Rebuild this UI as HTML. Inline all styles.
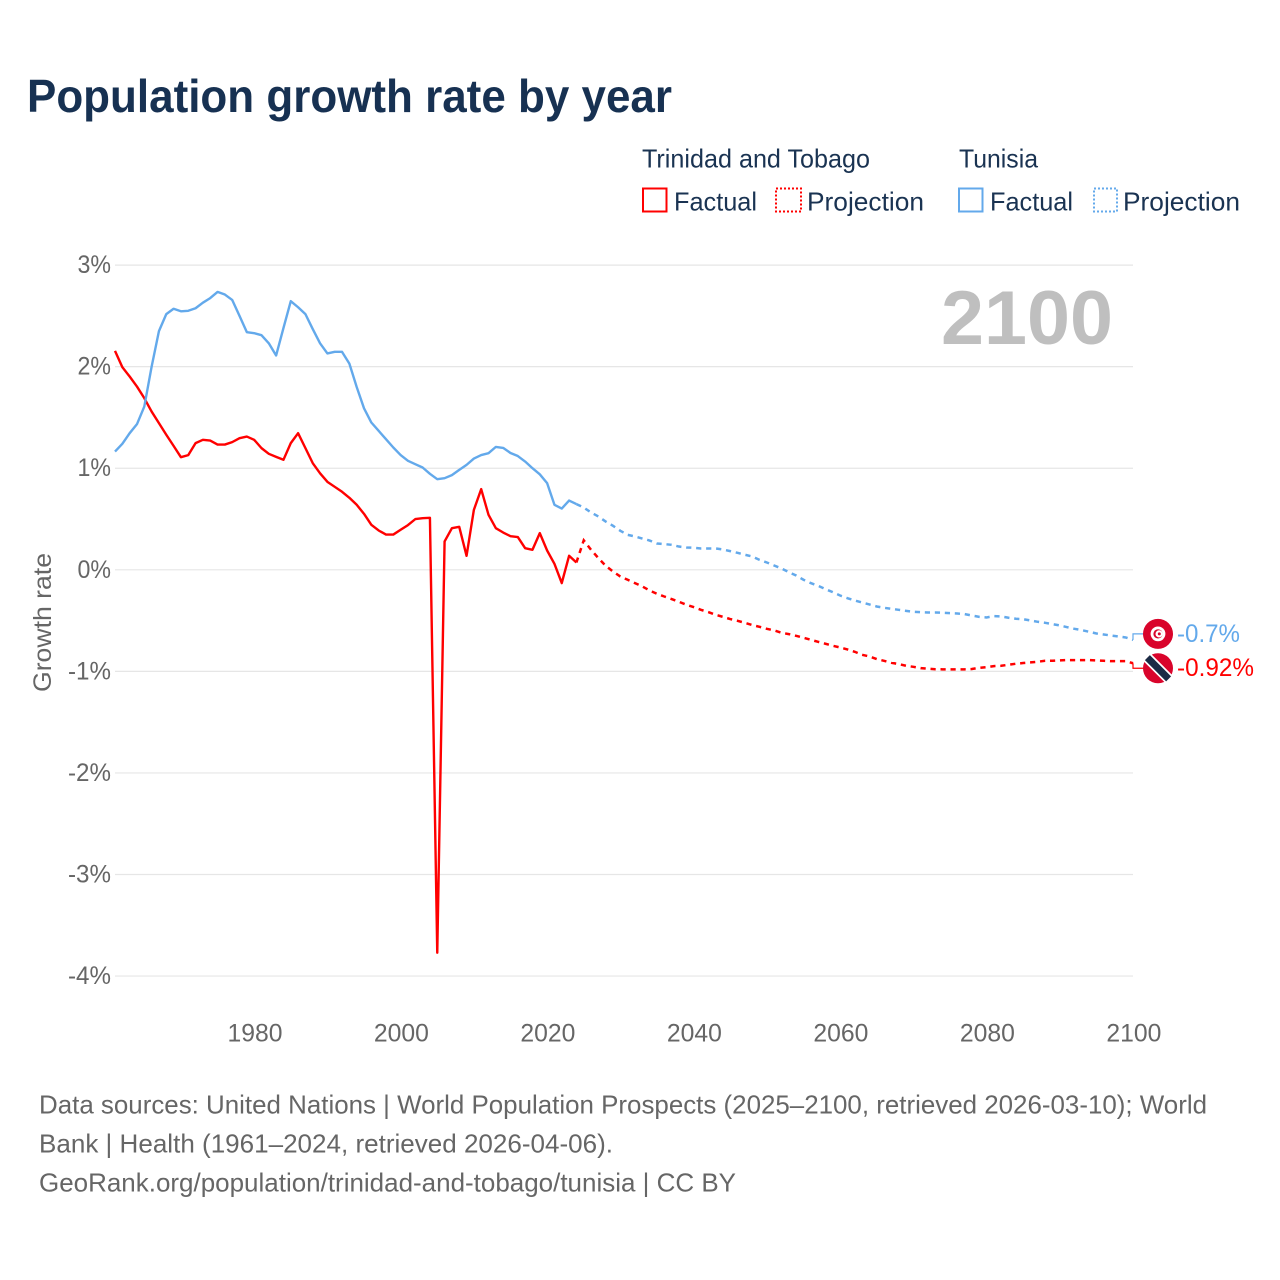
<!DOCTYPE html>
<html lang="en">
<head>
<meta charset="utf-8">
<title>Population growth rate by year</title>
<style>
html,body{margin:0;padding:0;background:#fff;}
svg{display:block;font-family:"Liberation Sans",sans-serif;}
</style>
</head>
<body>
<svg id="chart" xmlns="http://www.w3.org/2000/svg" width="1280" height="1280" viewBox="0 0 1280 1280">
  <rect x="0" y="0" width="1280" height="1280" fill="#ffffff"/>
  <text x="27" y="112" font-size="46" font-weight="700" fill="#173152" textLength="645" lengthAdjust="spacingAndGlyphs">Population growth rate by year</text>

  <g font-size="26" fill="#1a3352">
    <text x="642" y="167.5" textLength="228" lengthAdjust="spacingAndGlyphs">Trinidad and Tobago</text>
    <text x="959" y="167.5" textLength="79" lengthAdjust="spacingAndGlyphs">Tunisia</text>
    <g>
      <rect x="643" y="188.5" width="23.5" height="23" fill="none" stroke="#ff0000" stroke-width="2"/>
      <text x="674" y="210.5" textLength="83" lengthAdjust="spacingAndGlyphs">Factual</text>
    </g>
    <g>
      <rect x="776" y="188.5" width="25" height="23" fill="none" stroke="#ff0000" stroke-width="2" stroke-dasharray="2,2"/>
      <text x="807" y="210.5" textLength="117" lengthAdjust="spacingAndGlyphs">Projection</text>
    </g>
    <g>
      <rect x="959" y="188.5" width="23.5" height="23" fill="none" stroke="#63a9eb" stroke-width="2"/>
      <text x="990" y="210.5" textLength="83" lengthAdjust="spacingAndGlyphs">Factual</text>
    </g>
    <g>
      <rect x="1094" y="188.5" width="23" height="23" fill="none" stroke="#63a9eb" stroke-width="2" stroke-dasharray="2,2"/>
      <text x="1123" y="210.5" textLength="117" lengthAdjust="spacingAndGlyphs">Projection</text>
    </g>
  </g>

  <g id="grid"></g>
  <g id="y-ticks" font-size="25" fill="#666666"></g>
  <g id="x-ticks" font-size="25" fill="#666666"></g>
  <text transform="translate(51,692) rotate(-90)" font-size="25" fill="#666666" textLength="139" lengthAdjust="spacingAndGlyphs">Growth rate</text>
  <text x="941" y="344" font-size="76" font-weight="700" fill="#bfbfbf" textLength="172" lengthAdjust="spacingAndGlyphs">2100</text>

  <g id="series"></g>
  <g id="end-markers"></g>

  <g font-size="26" fill="#666666">
    <text x="39" y="1113.5" textLength="1168" lengthAdjust="spacingAndGlyphs">Data sources: United Nations | World Population Prospects (2025–2100, retrieved 2026-03-10); World</text>
    <text x="39" y="1152.5" textLength="574" lengthAdjust="spacingAndGlyphs">Bank | Health (1961–2024, retrieved 2026-04-06).</text>
    <text x="39" y="1191.5" textLength="697" lengthAdjust="spacingAndGlyphs">GeoRank.org/population/trinidad-and-tobago/tunisia | CC BY</text>
  </g>
</svg>

<script>
const factualYears = [1961,1962,1963,1964,1965,1966,1967,1968,1969,1970,1971,1972,1973,1974,1975,1976,1977,1978,1979,1980,1981,1982,1983,1984,1985,1986,1987,1988,1989,1990,1991,1992,1993,1994,1995,1996,1997,1998,1999,2000,2001,2002,2003,2004,2005,2006,2007,2008,2009,2010,2011,2012,2013,2014,2015,2016,2017,2018,2019,2020,2021,2022,2023,2024];
const projectionYears = [2025,2026,2027,2028,2029,2030,2031,2032,2033,2034,2035,2036,2037,2038,2039,2040,2041,2042,2043,2044,2045,2046,2047,2048,2049,2050,2051,2052,2053,2054,2055,2056,2057,2058,2059,2060,2061,2062,2063,2064,2065,2066,2067,2068,2069,2070,2071,2072,2073,2074,2075,2076,2077,2078,2079,2080,2081,2082,2083,2084,2085,2086,2087,2088,2089,2090,2091,2092,2093,2094,2095,2096,2097,2098,2099,2100];
const trinidadFactual = [2.155,1.995,1.903,1.804,1.69,1.558,1.444,1.33,1.22,1.109,1.129,1.247,1.28,1.272,1.233,1.233,1.257,1.296,1.312,1.28,1.198,1.142,1.112,1.083,1.247,1.345,1.198,1.05,0.95,0.866,0.817,0.768,0.709,0.64,0.551,0.443,0.387,0.347,0.347,0.394,0.44,0.499,0.508,0.512,-3.77,0.279,0.41,0.423,0.138,0.59,0.794,0.541,0.41,0.367,0.331,0.322,0.213,0.197,0.361,0.19,0.059,-0.131,0.138,0.072];
const trinidadProjection = [0.29,0.197,0.115,0.039,-0.017,-0.066,-0.098,-0.131,-0.164,-0.204,-0.236,-0.263,-0.288,-0.315,-0.344,-0.367,-0.394,-0.416,-0.443,-0.463,-0.485,-0.502,-0.522,-0.544,-0.561,-0.581,-0.597,-0.62,-0.633,-0.65,-0.669,-0.689,-0.709,-0.728,-0.748,-0.765,-0.784,-0.807,-0.837,-0.853,-0.879,-0.896,-0.915,-0.928,-0.945,-0.955,-0.968,-0.974,-0.979,-0.98,-0.98,-0.98,-0.98,-0.977,-0.965,-0.958,-0.948,-0.945,-0.935,-0.925,-0.918,-0.912,-0.905,-0.896,-0.896,-0.892,-0.889,-0.889,-0.889,-0.889,-0.892,-0.896,-0.899,-0.899,-0.899,-0.92];
const tunisiaFactual = [1.164,1.24,1.345,1.434,1.607,2.0,2.35,2.517,2.57,2.545,2.55,2.575,2.63,2.675,2.736,2.71,2.657,2.5,2.34,2.33,2.31,2.23,2.11,2.38,2.645,2.585,2.517,2.37,2.23,2.13,2.146,2.146,2.03,1.8,1.59,1.45,1.368,1.286,1.204,1.13,1.073,1.04,1.007,0.945,0.892,0.902,0.932,0.984,1.033,1.095,1.13,1.148,1.21,1.2,1.15,1.12,1.066,1.0,0.94,0.853,0.64,0.603,0.682,0.647];
const tunisiaProjection = [0.613,0.564,0.525,0.475,0.433,0.384,0.344,0.328,0.308,0.288,0.259,0.253,0.246,0.229,0.22,0.217,0.21,0.21,0.21,0.2,0.184,0.167,0.148,0.131,0.098,0.072,0.042,0.013,-0.023,-0.056,-0.098,-0.131,-0.157,-0.19,-0.22,-0.253,-0.279,-0.302,-0.322,-0.341,-0.361,-0.374,-0.384,-0.394,-0.404,-0.413,-0.417,-0.42,-0.42,-0.423,-0.427,-0.43,-0.436,-0.45,-0.463,-0.469,-0.456,-0.459,-0.472,-0.482,-0.486,-0.499,-0.512,-0.522,-0.535,-0.548,-0.565,-0.581,-0.594,-0.61,-0.627,-0.637,-0.647,-0.656,-0.666,-0.69];
const yTickValues = [3,2,1,0,-1,-2,-3,-4];
const yTickLabels = ['3%','2%','1%','0%','-1%','-2%','-3%','-4%'];
const xTickValues = [1980,2000,2020,2040,2060,2080,2100];
const xTickLabels = ['1980','2000','2020','2040','2060','2080','2100'];
const trinidadEndLabel = '-0.92%';
const tunisiaEndLabel = '-0.7%';

const SVG_NS = 'http://www.w3.org/2000/svg';
const RED = '#ff0000';
const BLUE = '#63a9eb';
const xScale = function (year) { return 115 + (year - 1961) * 7.324; };
const yScale = function (value) { return 569.8 - value * 101.57; };

function make(tag, parent, attrs) {
  const node = document.createElementNS(SVG_NS, tag);
  Object.keys(attrs).forEach(function (key) { node.setAttribute(key, attrs[key]); });
  parent.appendChild(node);
  return node;
}

function linePath(years, values) {
  return years.map(function (year, i) {
    return (i ? 'L' : 'M') + xScale(year).toFixed(2) + ' ' + yScale(values[i]).toFixed(2);
  }).join(' ');
}

const gridGroup = document.getElementById('grid');
const yTickGroup = document.getElementById('y-ticks');
const xTickGroup = document.getElementById('x-ticks');
const seriesGroup = document.getElementById('series');
const markerGroup = document.getElementById('end-markers');

yTickValues.forEach(function (value, i) {
  const gridline = make('line', gridGroup, { x1: 115, x2: 1133, y1: yScale(value), y2: yScale(value), stroke: '#e6e6e6', 'stroke-width': 1.2 });
  
  
  const width = yTickLabels[i].length === 2 ? 33.5 : 43;
  const label = make('text', yTickGroup, { x: 111 - width, y: yScale(value) + 8, textLength: width, lengthAdjust: 'spacingAndGlyphs' });
  label.textContent = yTickLabels[i];
  
  
});

xTickValues.forEach(function (year, i) {
  const label = make('text', xTickGroup, { x: xScale(year) + 0.8 - 27.5, y: 1041.5, textLength: 55, lengthAdjust: 'spacingAndGlyphs' });
  label.textContent = xTickLabels[i];
  
  
});

function drawSeries(key, color, factual, projection) {
  const solid = make('path', seriesGroup, { d: linePath(factualYears, factual), fill: 'none', stroke: color, 'stroke-width': 2.4, 'stroke-linejoin': 'round' });
  
  
  const lastYear = factualYears[factualYears.length - 1];
  const lastValue = factual[factual.length - 1];
  const dashed = make('path', seriesGroup, { d: linePath([lastYear].concat(projectionYears), [lastValue].concat(projection)), fill: 'none', stroke: color, 'stroke-width': 2.5, 'stroke-dasharray': '5.2,4.8' });
  
  
}

drawSeries('trinidad', RED, trinidadFactual, trinidadProjection);
drawSeries('tunisia', BLUE, tunisiaFactual, tunisiaProjection);

function endMarker(key, color, projection, offset, text, labelDx) {
  const endValue = projection[projection.length - 1];
  const endY = yScale(endValue);
  const flagY = endY + offset;
  const connector = make('path', markerGroup, { d: 'M1133 ' + endY.toFixed(2) + ' V' + flagY.toFixed(2) + ' H1144', fill: 'none', stroke: color, 'stroke-width': 1.2 });
  
  
  const label = make('text', markerGroup, { x: 1177, y: flagY + 8, 'font-size': 25, fill: color, textLength: labelDx, lengthAdjust: 'spacingAndGlyphs' });
  label.textContent = text;
  
  
  const flag = make('g', markerGroup, { transform: 'translate(1158,' + flagY.toFixed(2) + ')' });
  
  
  return flag;
}

const tunisiaFlag = endMarker('tunisia', BLUE, tunisiaProjection, -6, tunisiaEndLabel, 63);
make('circle', tunisiaFlag, { r: 15, fill: '#d9042b' });
make('circle', tunisiaFlag, { r: 7.4, fill: '#ffffff' });
make('circle', tunisiaFlag, { r: 4.6, fill: '#d9042b' });
make('circle', tunisiaFlag, { cx: 1.1, r: 3.6, fill: '#ffffff' });
make('circle', tunisiaFlag, { cx: 1.3, r: 1.5, fill: '#d9042b' });

const trinidadFlag = endMarker('trinidad', RED, trinidadProjection, 5, trinidadEndLabel, 77);
make('circle', trinidadFlag, { r: 15, fill: '#d9042b' });
make('line', trinidadFlag, { x1: -10.6, y1: -10.6, x2: 10.6, y2: 10.6, stroke: '#ffffff', 'stroke-width': 10.5 });
make('line', trinidadFlag, { x1: -10.6, y1: -10.6, x2: 10.6, y2: 10.6, stroke: '#1a2b45', 'stroke-width': 7 });
</script>
</body>
</html>
